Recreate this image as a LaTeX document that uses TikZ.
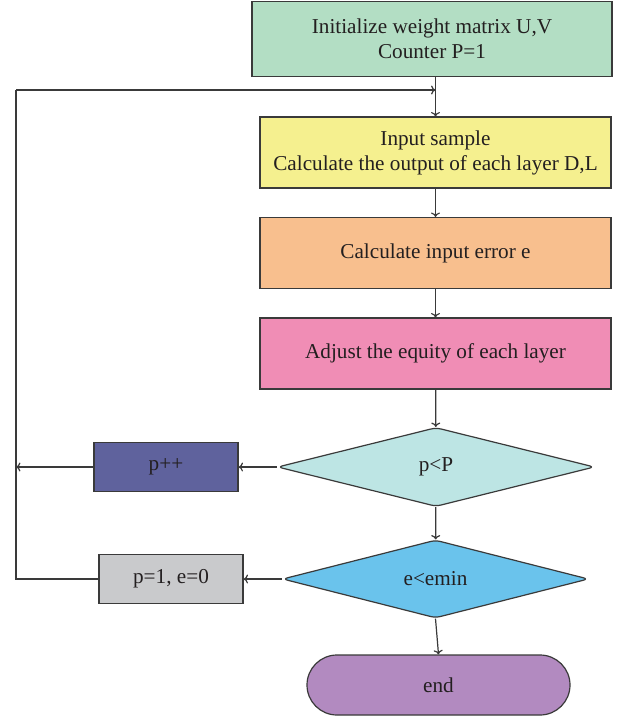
\documentclass[tikz,border=0pt]{standalone}
\usepackage{fontspec}
\setmainfont{Liberation Serif}
\usetikzlibrary{shapes.geometric,shapes.misc,arrows.meta}
\definecolor{cinit}{HTML}{B3DEC4}
\definecolor{cinput}{HTML}{F5F08F}
\definecolor{cerr}{HTML}{F8BF8E}
\definecolor{cadj}{HTML}{F08DB5}
\definecolor{cdone}{HTML}{BDE5E4}
\definecolor{cdtwo}{HTML}{6AC3EC}
\definecolor{cinc}{HTML}{5F629D}
\definecolor{creset}{HTML}{C9CACC}
\definecolor{cend}{HTML}{B28AC0}
\definecolor{cline}{HTML}{3A3A3A}
\definecolor{ctext}{HTML}{231F20}
\begin{document}
\begin{tikzpicture}[x=0.5pt,y=-0.5pt,
  every node/.style={font=\fontsize{10.6pt}{12.5pt}\selectfont,text=ctext,align=center,inner sep=0pt},
  procbox/.style={draw=cline,line width=0.6pt,rectangle,minimum width=175.5pt,minimum height=35.5pt},
  smallbox/.style={draw=cline,line width=0.6pt,rectangle,minimum width=72pt,minimum height=24.5pt},
  decision/.style={draw=cline,line width=0.6pt,diamond,rounded corners=2.5pt},
  flow/.style={draw=cline,line width=0.6pt,-{To[length=2.2pt,width=4.5pt]}},
  plain/.style={draw=cline,line width=0.6pt}]
\useasboundingbox[fill=white] (0,0) rectangle (623,718);

\node[procbox,fill=cinit,minimum width=180pt,minimum height=37.5pt] (init) at (432,39) {Initialize weight matrix U,V\\Counter P=1};
\node[procbox,fill=cinput] (input) at (435.5,152.5) {Input sample\\Calculate the output of each layer D,L};
\node[procbox,fill=cerr] (err) at (435.5,253) {Calculate input error e};
\node[procbox,fill=cadj] (adj) at (435.5,353.5) {Adjust the equity of each layer};
\node[decision,fill=cdone,minimum width=158.5pt,minimum height=39.5pt] (d1) at (436,467) {p<P};
\node[decision,fill=cdtwo,minimum width=153pt,minimum height=39pt] (d2) at (435.5,579) {e<emin};
\node[draw=cline,line width=0.6pt,rounded rectangle,fill=cend,minimum width=131.5pt,minimum height=30pt] (end) at (438.5,685) {end};
\node[smallbox,fill=cinc] (inc) at (166,467) {p++};
\node[smallbox,fill=creset] (reset) at (171,579) {p=1, e=0};

\coordinate (lt) at (16,90);

% main chain
\draw[flow] (init.south -| input.north) -- (input.north);
\draw[flow] (input) -- (err);
\draw[flow] (err) -- (adj);
\draw[flow] (adj) -- (d1);
\draw[flow] (d1) -- (d2);
\draw[flow] (d2.south) -- (end.north);

% loop back
\draw[flow] (d1.west) -- (inc.east);
\draw[flow] (d2.west) -- (reset.east);
\draw[flow] (inc.west) -- (inc.west -| lt);
\draw[plain] (reset.west) -| (lt);
\draw[flow] (lt) -- (lt -| input.north);
\end{tikzpicture}
\end{document}
